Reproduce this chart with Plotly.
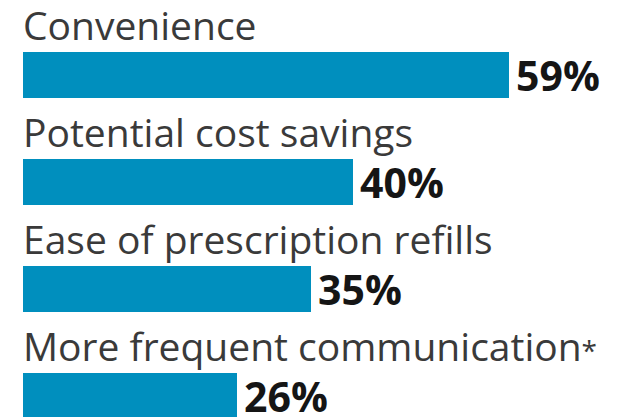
import plotly.graph_objects as go

categories = ["Convenience", "Potential cost savings", "Ease of prescription refills", "More frequent communication*"]
values = [59, 40, 35, 26]
value_labels = ["59%", "40%", "35%", "26%"]

bar_color = "#008FBE"

fig = go.Figure()
fig.add_trace(go.Bar(
    x=values, y=categories, orientation="h",
    marker=dict(color=bar_color, line=dict(width=0)),
    width=0.43, hoverinfo="skip",
))

annotations = []
for cat, v, lab in zip(categories, values, value_labels):
    txt = cat.replace("*", "<span style='font-size:28px'>*</span>")
    annotations.append(dict(
        x=0, y=cat, xref="x", yref="y", text=txt, showarrow=False,
        xanchor="left", yanchor="bottom", yshift=22, xshift=-2,
        font=dict(family="Open Sans", size=39, color="#3a3a3a", weight=400),
    ))
    annotations.append(dict(
        x=v, y=cat, xref="x", yref="y", text=lab, showarrow=False,
        xanchor="left", yanchor="middle", xshift=5, yshift=0,
        font=dict(family="Open Sans", size=41, color="#151515", weight=700),
    ))

fig.update_layout(
    width=621, height=417,
    margin=dict(l=0, r=0, t=0, b=0),
    paper_bgcolor="white", plot_bgcolor="white",
    showlegend=False,
    xaxis=dict(range=[-1.82, 73.54], visible=False, fixedrange=True),
    yaxis=dict(range=[3.271, -0.626], visible=False, fixedrange=True,
               categoryorder="array", categoryarray=categories),
    annotations=annotations,
    bargap=0,
)
fig.write_html("out.html")
